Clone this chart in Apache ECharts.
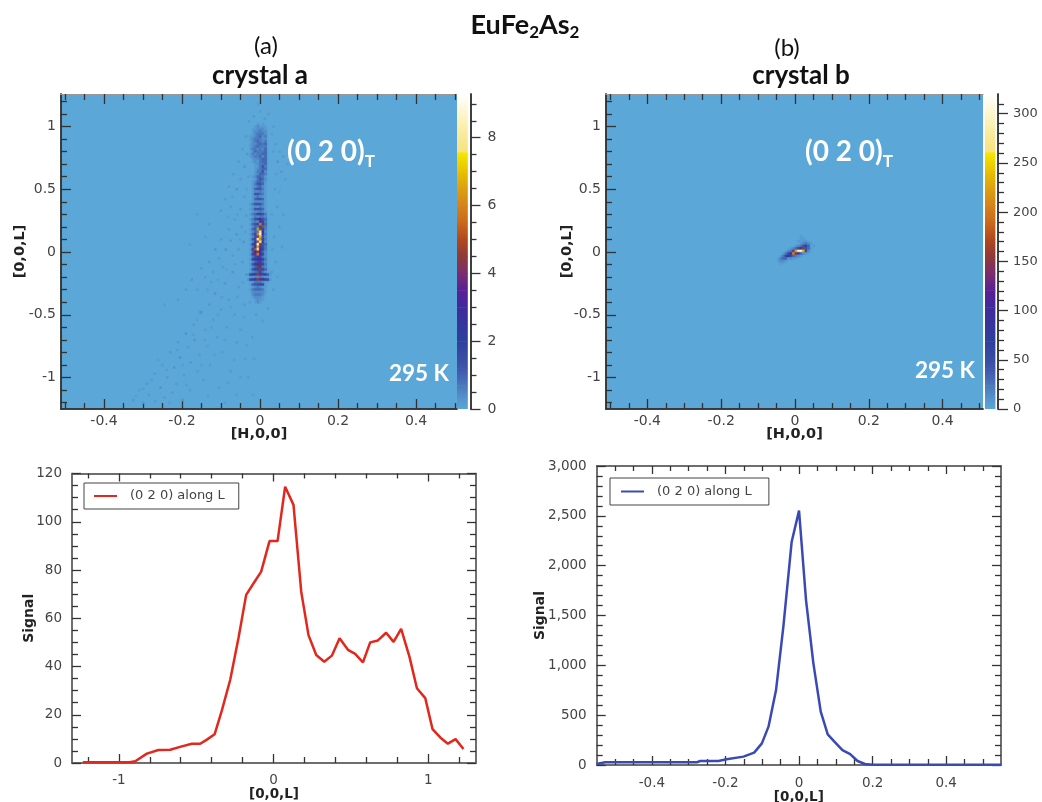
<!DOCTYPE html>
<html>
<head>
<meta charset="utf-8">
<style>html,body{margin:0;padding:0;background:#fff}#c{width:1042px;height:802px}</style>
<script src="https://cdn.jsdelivr.net/npm/echarts@6/dist/echarts.min.js"></script>
</head>
<body>
<div id="c"></div>
<script>
// ---------- data ----------
const lineLegendA = '(0 2 0) along L';
const lineLegendB = '(0 2 0) along L ';

const lineAx = [-1.233,-1.18,-1.13,-1.08,-1.03,-0.98,-0.93,-0.894,-0.819,-0.744,-0.668,-0.593,-0.528,-0.474,-0.431,-0.381,-0.334,-0.28,-0.226,-0.177,-0.129,-0.08,-0.026,0.026,0.075,0.129,0.179,0.226,0.276,0.328,0.377,0.427,0.481,0.528,0.578,0.625,0.675,0.728,0.776,0.825,0.879,0.927,0.981,1.028,1.078,1.127,1.177,1.228];
const lineAy = [0.3,0.3,0.3,0.3,0.3,0.3,0.3,0.7,3.9,5.4,5.5,6.9,8,8,9.7,11.9,21.8,34.5,52,69.7,74.5,79.3,92,92,114.5,107,71,53,44.8,42,44.5,51.7,46.9,45.2,41.7,50,50.8,54,50.2,55.6,44,31,26.9,14,10.6,8,9.9,5.8];

const lineBx = [-0.55,-0.527,-0.4,-0.3,-0.278,-0.269,-0.219,-0.197,-0.151,-0.122,-0.101,-0.083,-0.0625,-0.0426,-0.02,0,0.019,0.039,0.059,0.078,0.098,0.118,0.139,0.159,0.179,0.2,0.3,0.4,0.55];
const lineBy = [10,27,27,27,27,40,40,57,84,124,217,385,752,1388,2240,2552,1655,1020,535,308,227,150,110,40,10,3,2,2,2];

// Map intensity, one string per row of cells, top row first. Each char indexes mapLevels.
const mapLevels = [0,0.2,0.4,0.65,0.95,1.3,1.8,2.5,3.2,3.8,4.5,5,6,6.5,7,7.4,8,8.5,9];
const streakTopL = 1.02;
const streakLeftH = -0.0308;
const streakRows = [
"....1.1...","...12111..","..112221..","..122322..","..123332..",".1123423..",".1233322..","..234323..",
".1223434..",".1234333..",".1332324..","..243334..",".1323344..",".1233424..","..122344..","..121344..",
"...12334..","...11353..","...12344..","...13352..","...12443..","..124431..","...13542..","..124431..",
"..135541..","..123421..","..145531..","..122321..","..155431..","..123211..","..145541..","..122221..",
".1355531..","..121321..",".1255541..","..122321..",".1346653..","..132332..",".1356854..","..232963..",
".1456c64..","..2436b3..",".145da63..","..243g82..",".146ci73..","..25ae52..",".156hc63..","..26bg62..",
".167ia54..","..37d953..",".16bg763..","..48a842..",".169c762..","..356632..",".1678863..","..245642..",
".1577963..","..24a632..",".1566a64..","..234631..","1567a96641","..122321..","1567a98651","..133321..",
".1455651..","..123211..",".1344431..","..222221..","..23332...","..12221...","...1211...","...121...."
];

// Faint scattered counts beside the streak: [H, L, value]
const speckle = [
[-0.325,-1.18,0.28],[-0.31,-1.1,0.21],[-0.3,-1.2,0.25],[-0.29,-1.05,0.28],[-0.285,-1.14,0.21],[-0.27,-0.97,0.25],[-0.268,-1.19,0.21],[-0.255,-1.08,0.35],
[-0.25,-0.9,0.21],[-0.245,-1.16,0.25],[-0.238,-1.0,0.28],[-0.23,-0.8,0.25],[-0.225,-1.12,0.21],[-0.22,-0.92,0.32],[-0.215,-1.05,0.21],[-0.21,-0.72,0.21],
[-0.205,-0.84,0.35],[-0.2,-1.18,0.21],[-0.195,-0.98,0.25],[-0.19,-0.65,0.35],[-0.185,-0.76,0.21],[-0.18,-1.1,0.21],[-0.178,-0.88,0.25],[-0.17,-0.58,0.25],
[-0.168,-0.7,0.32],[-0.16,-0.95,0.21],[-0.155,-0.82,0.21],[-0.152,-0.48,0.38],[-0.145,-1.02,0.21],[-0.14,-0.62,0.25],[-0.135,-0.75,0.21],[-0.13,-0.42,0.25],
[-0.128,-0.9,0.21],[-0.12,-0.54,0.21],[-0.115,-0.33,0.32],[-0.11,-0.68,0.25],[-0.105,-1.08,0.21],[-0.1,-0.46,0.21],[-0.097,-0.8,0.21],[-0.09,-0.25,0.28],
[-0.085,-0.6,0.21],[-0.08,-0.38,0.25],[-0.075,-0.95,0.21],[-0.07,-0.16,0.32],[-0.065,-0.5,0.21],[-0.06,-0.72,0.21],[-0.055,-0.28,0.25],[-0.05,-0.62,0.21],
[-0.045,-0.08,0.28],[-0.04,-0.42,0.25],[-0.038,-0.85,0.21],[-0.035,-0.18,0.35],[-0.245,-0.42,0.2],[-0.21,-0.38,0.25],[-0.19,-0.3,0.21],[-0.175,-0.22,0.28],
[-0.16,-0.3,0.21],[-0.15,-0.13,0.25],[-0.14,-0.2,0.21],[-0.13,-0.08,0.28],[-0.12,-0.16,0.21],[-0.115,0.02,0.32],[-0.105,-0.05,0.21],[-0.1,0.1,0.25],
[-0.095,-0.12,0.21],[-0.088,0.02,0.35],[-0.08,0.18,0.21],[-0.075,0.09,0.25],[-0.07,-0.03,0.21],[-0.065,0.26,0.25],[-0.06,0.14,0.32],[-0.055,0.02,0.21],
[-0.05,0.34,0.25],[-0.047,0.2,0.21],[-0.042,0.08,0.32],[-0.04,0.44,0.21],[-0.035,0.29,0.25],[-0.1,0.33,0.21],[-0.09,0.42,0.21],[-0.08,0.52,0.25],
[-0.075,0.36,0.21],[-0.068,0.62,0.21],[-0.06,0.5,0.32],[-0.055,0.72,0.21],[-0.05,0.58,0.25],[-0.045,0.82,0.21],[-0.04,0.68,0.28],[-0.036,0.92,0.21],
[-0.13,0.22,0.2],[-0.14,0.12,0.2],[-0.16,0.3,0.18],[-0.18,0.06,0.18],[-0.03,0.6,0.25],[-0.033,0.78,0.32],
[0.035,1.0,0.21],[0.04,0.86,0.25],[0.045,0.72,0.32],[0.05,0.8,0.21],[0.055,0.64,0.28],[0.06,0.76,0.25],[0.065,0.58,0.21],[0.07,0.7,0.21],
[0.038,0.5,0.21],[0.044,0.36,0.25],[0.05,0.2,0.21],[0.036,0.12,0.25],[0.056,0.04,0.21],[0.04,-0.08,0.21],[0.03,-0.16,0.25],[0.034,-0.3,0.21],
[0.02,-0.45,0.21],[0.006,-0.55,0.25],[-0.01,-0.5,0.21],[-0.02,-0.68,0.21],[-0.015,-0.85,0.21],[-0.03,-1.0,0.21],[-0.06,-1.14,0.21],[-0.09,-1.2,0.21],
[-0.028,1.04,0.21],[-0.016,1.08,0.25],[0,1.12,0.21],[0.012,1.06,0.25],[0.022,1.1,0.21],[-0.004,1.18,0.21],
[-0.318,-1.15,0.18],[-0.3,-1.09,0.18],[-0.278,-1.02,0.2],[-0.262,-0.86,0.18],[-0.24,-0.94,0.18],[-0.232,-1.2,0.18],[-0.212,-0.78,0.2],[-0.198,-0.9,0.18],
[-0.188,-1.06,0.18],[-0.172,-0.66,0.2],[-0.162,-0.54,0.18],[-0.15,-0.9,0.18],[-0.142,-0.7,0.18],[-0.134,-1.15,0.18],[-0.124,-0.6,0.2],[-0.116,-0.82,0.18],
[-0.108,-0.5,0.18],[-0.098,-0.36,0.2],[-0.09,-0.7,0.18],[-0.082,-1.04,0.18],[-0.074,-0.44,0.18],[-0.066,-0.86,0.18],[-0.058,-0.36,0.2],[-0.05,-1.0,0.18],
[-0.042,-0.52,0.18],[-0.034,-0.74,0.18],[-0.026,-0.4,0.2],[-0.018,-1.14,0.18],[-0.135,-0.3,0.2],[-0.125,-0.24,0.18],[-0.108,-0.22,0.2],[-0.086,-0.14,0.18],
[-0.082,0.28,0.18],[-0.07,0.44,0.18],[-0.064,-0.1,0.2],[-0.052,0.1,0.18],[-0.044,-0.24,0.2],[-0.038,0.16,0.2],[-0.034,0.5,0.18],[-0.058,0.3,0.18],
[0.03,0.94,0.18],[0.034,0.8,0.2],[0.042,0.62,0.18],[0.05,0.48,0.18],[0.06,0.3,0.18],[0.03,0.3,0.2],[0.032,0.02,0.2],[0.044,-0.2,0.18]
];

// Panel (b) peak, same encoding; value = level * countsPerUnit
const blobTopL = 0.127;
const blobLeftH = -0.0515;
const blobRows = [
"..........1.....","..........11....",".........1111...","..........12321.","........123564.1","......12468a541.",
".....236dhie62..","...1358ca7421...","..136764321.....",".13441211.......",".1221...........","..1............."
];
const countsPerUnit = 34.4;

// Colour-bar ramp: [fraction of scale, colour]
const ramp = [[0,'#5aa7d8'],[0.032,'#5695cd'],[0.075,'#4a78bb'],[0.13,'#3d55ab'],[0.215,'#2e3f9b'],[0.323,'#3f2c9c'],
[0.377,'#5a1f96'],[0.43,'#7a2d6e'],[0.484,'#8e3a3a'],[0.538,'#b0481c'],[0.592,'#c9691b'],[0.646,'#d5831a'],
[0.70,'#dd9f10'],[0.753,'#e8c000'],[0.813,'#f5e800'],[0.818,'#f7e27a'],[0.904,'#fbf0b0'],[1,'#ffffff']];

// Axis ticks
const mapXMajor = [-0.4,-0.2,0,0.2,0.4];
const mapXMinor = [-0.5,-0.45,-0.35,-0.3,-0.25,-0.15,-0.1,-0.05,0.05,0.1,0.15,0.25,0.3,0.35,0.45,0.5];
const mapYMajor = [-1,-0.5,0,0.5,1];
const mapYMinor = [-1.2,-1.1,-0.9,-0.8,-0.7,-0.6,-0.4,-0.3,-0.2,-0.1,0.1,0.2,0.3,0.4,0.6,0.7,0.8,0.9,1.1,1.2];
const barAMajor = [0,2,4,6,8];
const barAMinor = [0.5,1,1.5,2.5,3,3.5,4.5,5,5.5,6.5,7,7.5,8.5,9];
const barBMajor = [0,50,100,150,200,250,300];
const barBMinor = [10,20,30,40,60,70,80,90,110,120,130,140,160,170,180,190,210,220,230,240,260,270,280,290,310];
const lineAXMajor = [-1,0,1];
const lineAXMinor = [-1.2,-0.8,-0.6,-0.4,-0.2,0.2,0.4,0.6,0.8,1.2];
const lineAYMajor = [0,20,40,60,80,100,120];
const lineAYMinor = [5,10,15,25,30,35,45,50,55,65,70,75,85,90,95,105,110,115];
const lineBXMajor = [-0.4,-0.2,0,0.2,0.4];
const lineBXMinor = [-0.5,-0.45,-0.35,-0.3,-0.25,-0.15,-0.1,-0.05,0.05,0.1,0.15,0.25,0.3,0.35,0.45,0.5];
const lineBYMajor = [0,500,1000,1500,2000,2500,3000];
const lineBYMinor = [100,200,300,400,600,700,800,900,1100,1200,1300,1400,1600,1700,1800,1900,2100,2200,2300,2400,2600,2700,2800,2900];

// ---------- helpers ----------
const LBL = '#444', TICK = '#333', SANS = '"DejaVu Sans"', CAL = 'Lato';
function hex2(c){return [parseInt(c.substr(1,2),16),parseInt(c.substr(3,2),16),parseInt(c.substr(5,2),16)];}
function colorAt(f){
  if (f<=0) return ramp[0][1];
  for(let i=1;i<ramp.length;i++){ if(f<=ramp[i][0]){
    const t=(f-ramp[i-1][0])/(ramp[i][0]-ramp[i-1][0]),a=hex2(ramp[i-1][1]),b=hex2(ramp[i][1]);
    return 'rgb('+a.map((v,k)=>Math.round(v+(b[k]-v)*t)).join(',')+')';
  }}
  return '#fff';
}
function ax(pos,grid,min,max,vals,len,opt){
  opt=opt||{};
  const o={type:'value',gridIndex:grid,position:pos,min:min,max:max,scale:true,
    splitLine:{show:false},minorTick:{show:false},
    axisLine:{show:true,onZero:false,lineStyle:{color:opt.lineColor||TICK,width:opt.lineWidth||1.5}},
    axisTick:{show:true,inside:!opt.outside,length:len,customValues:vals,lineStyle:{color:TICK,width:1.3}},
    axisLabel:{show:false}};
  if(opt.labels){
    o.axisLabel={show:true,inside:false,customValues:vals,margin:opt.margin,color:LBL,fontFamily:SANS,fontSize:opt.fs||13,
      hideOverlap:false,formatter:function(v){return Number(v).toLocaleString('en-US');}};
  }
  if(opt.name){
    o.name=opt.name;o.nameLocation='middle';o.nameGap=opt.gap;o.nameMoveOverlap=false;
    o.nameTextStyle={fontFamily:SANS,fontWeight:'bold',fontSize:opt.nameSize||13.5,color:'#222'};
  }
  return o;
}
const grids=[],xAxes=[],yAxes=[],series=[];
// adds one framed panel; returns axis indices of the first x / y axis
function panel(box,xr,yr,xMaj,xMin,yMaj,yMin,o){
  const g=grids.length;
  grids.push({left:box[0],top:box[1],width:box[2],height:box[3],containLabel:false,outerBoundsMode:'none',show:!!o.bg,backgroundColor:o.bg||'transparent',borderWidth:0});
  const xi=xAxes.length, yi=yAxes.length;
  xAxes.push(ax('bottom',g,xr[0],xr[1],xMaj,o.maj,{labels:true,margin:o.xMargin,fs:o.fs,name:o.xName,gap:o.xGap,lineColor:o.frame,nameSize:o.nameSize}));
  xAxes.push(ax('bottom',g,xr[0],xr[1],xMin,o.min,{lineColor:o.frame}));
  xAxes.push(ax('top',g,xr[0],xr[1],xMaj,o.majTop,{lineColor:o.topColor||o.frame,lineWidth:o.topWidth}));
  xAxes.push(ax('top',g,xr[0],xr[1],xMin,o.minTop,{lineColor:o.topColor||o.frame,lineWidth:o.topWidth}));
  yAxes.push(ax('left',g,yr[0],yr[1],yMaj,o.maj,{labels:true,margin:o.yMargin,fs:o.fs,name:o.yName,gap:o.yGap,lineColor:o.frame,nameSize:o.yNameSize||o.nameSize}));
  yAxes.push(ax('left',g,yr[0],yr[1],yMin,o.min,{lineColor:o.frame}));
  if(o.rightTicks){
    yAxes.push(ax('right',g,yr[0],yr[1],yMaj,o.maj,{lineColor:o.frame}));
    yAxes.push(ax('right',g,yr[0],yr[1],yMin,o.min,{lineColor:o.frame}));
  }
  return {xi:xi,yi:yi};
}
function bar(box,vmax,major,minor,margin,fs){
  const g=grids.length;
  grids.push({left:box[0],top:box[1],width:box[2],height:box[3],outerBoundsMode:'none'});
  const xi=xAxes.length, yi=yAxes.length;
  xAxes.push({type:'value',gridIndex:g,min:0,max:1,show:false});
  yAxes.push(ax('right',g,0,vmax,major,10,{outside:true,labels:true,margin:margin,fs:fs}));
  yAxes.push(ax('right',g,0,vmax,minor,6,{outside:true}));
  const bands=[];
  for(let i=1;i<ramp.length;i++) bands.push([ramp[i-1][0]*vmax,ramp[i][0]*vmax,i]);
  series.push({type:'custom',xAxisIndex:xi,yAxisIndex:yi,silent:true,clip:true,data:bands,
    encode:{y:[0,1]},
    renderItem:function(p,api){
      const a=api.coord([0,api.value(0)]),b=api.coord([0.8,api.value(1)]),i=api.value(2);
      return {type:'rect',shape:{x:a[0],y:b[1],width:b[0]-a[0],height:a[1]-b[1]+0.5},
        style:{fill:new echarts.graphic.LinearGradient(0,1,0,0,[{offset:0,color:ramp[i-1][1]},{offset:1,color:ramp[i][1]}])}};
    }});
}
function cellSeries(idx,cells,dH,dL,vmax){
  series.push({type:'custom',xAxisIndex:idx.xi,yAxisIndex:idx.yi,silent:true,clip:true,data:cells,
    encode:{x:0,y:1},
    renderItem:function(p,api){
      const v=api.value(2)/vmax,c=api.coord([api.value(0),api.value(1)]),s=api.size([dH,dL]),col=colorAt(v);
      const style=v>0.04?{fill:col,shadowBlur:1.5,shadowColor:col}:{fill:col};
      return {type:'rect',shape:{x:c[0]-s[0]/2,y:c[1]-s[1]/2,width:s[0],height:s[1]},style:style};
    }});
}
function rowsToCells(rows,topL,leftH,dH,dL,scale){
  const out=[];
  rows.forEach(function(r,j){ for(let i=0;i<r.length;i++){ if(r[i]!=='.'){
    out.push([leftH+i*dH,topL-j*dL,mapLevels[parseInt(r[i],36)]*scale]);
  }}});
  return out;
}

// ---------- panels ----------
const BG='#5aa7d8';
const mapOpts={bg:BG,frame:'#333',topColor:'#999',topWidth:1,maj:10,min:6,majTop:10,minTop:6,xMargin:5,yMargin:5,fs:14,nameSize:14.5};
const pa=panel([61,94,396,315],[-0.5103,0.505],[-1.251,1.259],mapXMajor,mapXMinor,mapYMajor,mapYMinor,
  Object.assign({},mapOpts,{xName:'[H,0,0]',xGap:18,yName:'[0,0,L]',yGap:33}));
const dHa=0.0064,dLa=0.02;
cellSeries(pa,speckle.concat(rowsToCells(streakRows,streakTopL,streakLeftH,dHa,dLa,1)),dHa,dLa,9.29);
bar([457,94,13.5,315],9.29,barAMajor,barAMinor,17,14);

const pb=panel([606,94,377,315],[-0.512,0.5095],[-1.251,1.259],mapXMajor,mapXMinor,mapYMajor,mapYMinor,
  Object.assign({},mapOpts,{xName:'[H,0,0]',xGap:18,yName:'[0,0,L]',yGap:31}));
const dHb=0.0068;
cellSeries(pb,rowsToCells(blobRows,blobTopL,blobLeftH,dHb,dLa,countsPerUnit),dHb,dLa,320);
bar([985,94,13,315],320,barBMajor,barBMinor,15,13);

const frame={bg:null,frame:'#666',maj:9,min:6,majTop:8,minTop:5,xMargin:10,yMargin:10,fs:13.5,rightTicks:true,nameSize:13.5,yNameSize:14};
const la=panel([72,473.5,404,289.5],[-1.303,1.309],[0,120],lineAXMajor,lineAXMinor,lineAYMajor,lineAYMinor,
  Object.assign({},frame,{xName:'[0,0,L]',xGap:24,yName:'Signal',yGap:36,xMargin:10}));
series.push({type:'line',name:lineLegendA,xAxisIndex:la.xi,yAxisIndex:la.yi,symbol:'none',silent:true,
  lineStyle:{color:'#e2281c',width:2.5},itemStyle:{color:'#e2281c'},
  data:lineAx.map(function(x,i){return [x,lineAy[i]];})});

const lb=panel([596.7,466,404.3,299],[-0.55,0.549],[0,3000],lineBXMajor,lineBXMinor,lineBYMajor,lineBYMinor,
  Object.assign({},frame,{xName:'[0,0,L]',xGap:25,yName:'Signal',yGap:49,xMargin:11}));
series.push({type:'line',name:lineLegendB,xAxisIndex:lb.xi,yAxisIndex:lb.yi,symbol:'none',silent:true,
  lineStyle:{color:'#3a4ab5',width:2.5},itemStyle:{color:'#3a4ab5'},
  data:lineBx.map(function(x,i){return [x,lineBy[i]];})});

function legend(name,left,top,pad){
  return {data:[name],left:left,top:top,orient:'horizontal',icon:'rect',itemWidth:23,itemHeight:2,
    padding:pad,borderWidth:1,borderColor:'#444',backgroundColor:'#fff',selectedMode:false,
    textStyle:{fontFamily:SANS,fontSize:13,color:'#444',padding:[0,0,0,8]}};
}
function txt(s,x,y,font,fill,rich){
  const st={text:s,x:x,y:y,textAlign:'center',textVerticalAlign:'middle',font:font,fill:fill||'#111'};
  if(rich) st.rich=rich;
  return {type:'text',silent:true,z:50,style:st};
}
const subRich=function(size,sub,w,color,lh){return {
  m:{fontFamily:CAL,fontWeight:w,fontSize:size,lineHeight:lh,fill:color,color:color},
  s:{fontFamily:CAL,fontWeight:w,fontSize:sub,lineHeight:sub,verticalAlign:'bottom',fill:color,color:color}
};};
const graphic=[
  txt('{m|EuFe}{s|2}{m|As}{s|2}',525,25,'bold 24px Lato','#111',subRich(27,17,'bold','#111',32)),
  txt('(a)',266,46,'24px Lato','#111'),
  txt('crystal a',260,76,'bold 26px Lato','#111'),
  txt('(b)',787,48,'24px Lato','#111'),
  txt('crystal b',801,76,'bold 26px Lato','#111'),
  txt('{m|(0 2 0)}{s|T}',331,152,'bold 28px Lato','#fff',subRich(28,17,'bold','#fff',36)),
  txt('{m|(0 2 0)}{s|T}',849,152,'bold 28px Lato','#fff',subRich(28,17,'bold','#fff',36)),
  txt('295 K',419,374,'bold 22.5px Lato','#fff'),
  txt('295 K',945,371,'bold 22.5px Lato','#fff')
];

const chart=echarts.init(document.getElementById('c'),null,{renderer:'canvas'});
chart.setOption({
  animation:false,backgroundColor:'#fff',tooltip:{show:false},
  grid:grids,xAxis:xAxes,yAxis:yAxes,series:series,
  legend:[legend(lineLegendA,84,483,[6.5,14,6.5,10]),legend(lineLegendB,610,478,[7,13,7,11])],
  graphic:graphic
});
</script>
</body>
</html>
